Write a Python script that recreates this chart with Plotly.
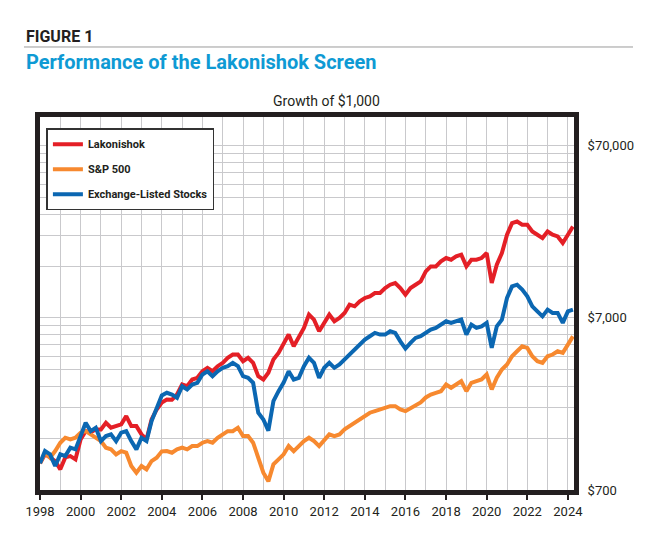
import pandas as pd
import plotly.graph_objects as go

# quarterly observations, Q1 1998 through Q2 2024
dates = pd.date_range("1998-01-01", periods=106, freq="QS")

lakonishok = [
    1000, 1128, 1083, 1031,
    923, 1083, 1102, 1055,
    1378, 1539, 1513, 1575,
    1575, 1722, 1611, 1646,
    1684, 1881, 1646, 1646,
    1473, 1378, 1800, 2057,
    2259, 2351, 2340, 2513,
    2872, 2807, 3071, 3142,
    3431, 3591, 3431, 3669,
    3839, 4104, 4288, 4288,
    3922, 4104, 3839, 3209,
    3071, 3358, 4011, 4387,
    4900, 5601, 4791, 5476,
    6125, 7314, 6843, 5853,
    6548, 7314, 6690, 7000,
    7483, 8361, 8174, 8738,
    9144, 9342, 9775, 9775,
    10450, 10920, 11170, 10450,
    9557, 10450, 10920, 11410,
    13040, 13950, 13950, 14910,
    15600, 15250, 15940, 16310,
    13950, 15250, 15250, 15600,
    16680, 11170, 14270, 16680,
    21300, 24900, 25430, 24340,
    24340, 22250, 21300, 20380,
    22250, 21300, 20820, 19060,
    21300, 23790,
]

sp500 = [
    1000, 1153, 1079, 1178,
    1318, 1409, 1378, 1409,
    1507, 1539, 1473, 1409,
    1347, 1233, 1206, 1128,
    1178, 1153, 965, 883,
    965, 923, 1031, 1079,
    1174, 1178, 1153, 1206,
    1233, 1206, 1260, 1260,
    1318, 1347, 1318, 1409,
    1473, 1539, 1539, 1611,
    1440, 1440, 1318, 1055,
    883, 786, 987, 1055,
    1128, 1260, 1178, 1260,
    1347, 1409, 1347, 1260,
    1378, 1473, 1440, 1473,
    1575, 1646, 1722, 1800,
    1881, 1969, 2011, 2057,
    2104, 2149, 2149, 2057,
    2011, 2084, 2170, 2259,
    2415, 2513, 2571, 2626,
    2872, 2749, 2872, 3003,
    2626, 2938, 3003, 3071,
    3283, 2687, 3142, 3510,
    3752, 4192, 4482, 4791,
    4690, 4192, 3922, 3839,
    4192, 4288, 4482, 4387,
    4900, 5476,
]

exchange_listed = [
    1000, 1178, 1128, 965,
    1128, 1102, 1233, 1206,
    1440, 1722, 1539, 1611,
    1347, 1440, 1473, 1347,
    1507, 1539, 1347, 1206,
    1409, 1347, 1760, 2104,
    2480, 2571, 2513, 2405,
    2807, 2687, 2872, 2938,
    3283, 3431, 3209, 3431,
    3591, 3669, 3839, 3669,
    3209, 3142, 2938, 1969,
    1800, 1550, 2298, 2626,
    2950, 3431, 3071, 3142,
    3669, 4104, 3839, 3142,
    3591, 3839, 3591, 3752,
    4011, 4288, 4585, 4900,
    5238, 5476, 5729, 5601,
    5601, 5853, 5729, 5121,
    4645, 5013, 5359, 5476,
    5729, 5987, 6125, 6401,
    6690, 6548, 6690, 6843,
    5601, 6401, 6125, 6257,
    6548, 4690, 6257, 6843,
    9144, 10680, 10920, 10220,
    9342, 8174, 7645, 7150,
    7820, 7483, 7483, 6548,
    7645, 7820,
]

y_ticks = [700, 7000, 70000]
y_labels = ["$700", "$7,000", "$70,000"]
y_minor = [1400, 2100, 2800, 3500, 4200, 4900, 5600, 6300,
           14000, 21000, 28000, 35000, 42000, 49000, 56000, 63000]

series = [
    ("Lakonishok", lakonishok, "#e41f26"),
    ("S&P 500", sp500, "#f7892f"),
    ("Exchange-Listed Stocks", exchange_listed, "#0b67b2"),
]

fig = go.Figure()
for name, values, color in series:
    fig.add_trace(go.Scatter(
        x=dates, y=values, name=name, mode="lines",
        line=dict(color=color, width=4),
        legendgroup=name,
    ))

# the page body adds an 8px offset, so the figure is 8px smaller
grid = "#c9c9cc"
fig.update_layout(
    width=642, height=534,
    margin=dict(l=32, r=76, t=109, b=52),
    paper_bgcolor="white",
    plot_bgcolor="white",
    font=dict(family="Roboto", color="#231f20"),
    showlegend=True,
    legend=dict(
        x=0.012, y=0.970, xanchor="left", yanchor="top",
        bgcolor="white", bordercolor="#333333", borderwidth=1.5,
        font=dict(size=11, family="Roboto", weight="bold"),
        traceorder="grouped", tracegroupgap=6,
    ),
    xaxis=dict(
        type="date",
        range=["1998-01-01", "2024-04-20"],
        tick0="1998-01-01", dtick="M24", tickformat="%Y",
        ticks="outside", ticklen=5, tickwidth=2, tickcolor="#231f20",
        tickfont=dict(size=13),
        showgrid=True, gridcolor=grid, gridwidth=1,
        minor=dict(dtick="M12", showgrid=True, gridcolor=grid, gridwidth=1),
        showline=True, linewidth=5, linecolor="#231f20", mirror=True,
        zeroline=False,
    ),
    yaxis=dict(
        type="log",
        side="right",
        range=[2.8451, 5.0128],
        tickmode="array", tickvals=y_ticks, ticktext=y_labels,
        ticks="outside", ticklen=6, tickcolor="rgba(0,0,0,0)",
        tickfont=dict(size=13),
        showgrid=True, gridcolor=grid, gridwidth=1,
        minor=dict(tickmode="array", tickvals=y_minor, showgrid=True,
                   gridcolor=grid, gridwidth=1),
        showline=True, linewidth=5, linecolor="#231f20", mirror=True,
        zeroline=False,
    ),
)

fig.add_annotation(
    text="FIGURE 1", xref="paper", yref="paper", x=-0.030, y=1.2145,
    xanchor="left", yanchor="middle", showarrow=False,
    font=dict(size=16, family="Roboto", weight="bold", color="#231f20"),
)
fig.add_shape(
    type="line", xref="paper", yref="paper",
    x0=-0.030, x1=1.1105, y0=1.1877, y1=1.1877,
    line=dict(color="#9a9a9a", width=1),
)
fig.add_annotation(
    text="Performance of the Lakonishok Screen", xref="paper", yref="paper",
    x=-0.030, y=1.1475, xanchor="left", yanchor="middle", showarrow=False,
    font=dict(size=20, family="Roboto", weight="bold", color="#0e9ad4"),
)
fig.add_annotation(
    text="Growth of $1,000", xref="paper", yref="paper",
    x=0.5356, y=1.0429, xanchor="center", yanchor="middle", showarrow=False,
    font=dict(size=14, family="Roboto", color="#231f20"),
)

fig.write_html("out.html")
